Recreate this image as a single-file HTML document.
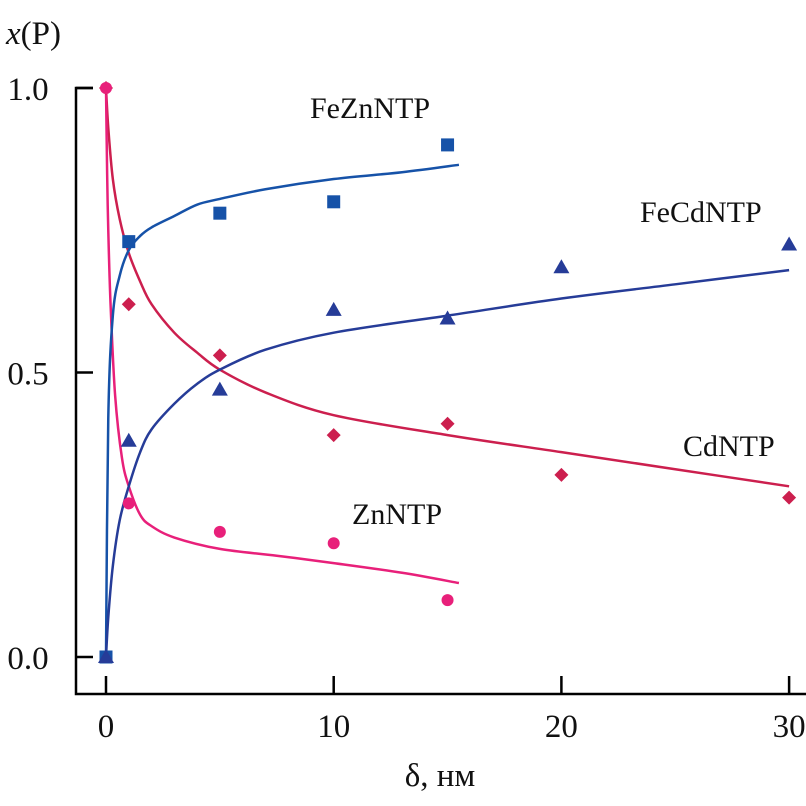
<!DOCTYPE html>
<html><head><meta charset="utf-8"><style>
body{margin:0;background:#fff}
svg{display:block;font-family:"Liberation Serif",serif}
</style></head><body>
<svg id="c" width="806" height="806"></svg>
<script>
const xTicks=[0,10,20,30];
const yTicks=[0.0,0.5,1.0];
const yTickLabels=["0.0","0.5","1.0"];
const feznX=[0,1,5,10,15], feznY=[0,0.73,0.78,0.80,0.90];
const fecdX=[0,1,5,10,15,20,30], fecdY=[0,0.38,0.47,0.61,0.595,0.685,0.725];
const cdX=[0,1,5,10,15,20,30], cdY=[1,0.62,0.53,0.39,0.41,0.32,0.28];
const znX=[0,1,5,10,15], znY=[1,0.27,0.22,0.20,0.10];
const feznFitX=[0,0.1,0.3,0.6,1,1.5,2,3,4,5,7,10,13,15.5], feznFitY=[0,0.42,0.6,0.67,0.715,0.74,0.755,0.775,0.795,0.805,0.822,0.84,0.852,0.865];
const fecdFitX=[0,0.1,0.3,0.6,1,1.5,2,3,4,5,7,10,15,20,25,30], fecdFitY=[0,0.07,0.16,0.24,0.3,0.36,0.4,0.445,0.48,0.505,0.54,0.57,0.6,0.63,0.655,0.68];
const cdFitX=[0,0.1,0.3,0.6,1,1.5,2,3,4,5,7,10,15,20,25,30], cdFitY=[1,0.93,0.84,0.77,0.71,0.66,0.62,0.57,0.535,0.505,0.465,0.425,0.39,0.36,0.33,0.3];
const znFitX=[0,0.05,0.1,0.2,0.4,0.7,1,1.5,2,3,5,7.5,10,13,15.5], znFitY=[1,0.85,0.75,0.62,0.46,0.35,0.3,0.25,0.23,0.21,0.19,0.178,0.165,0.148,0.13];
const sx=v=>106+v*22.77, sy=v=>657-v*569;
const svg=document.getElementById('c'), NS='http://www.w3.org/2000/svg';
function mk(t,a,p){const e=document.createElementNS(NS,t);for(const k in a)e.setAttribute(k,a[k]);(p||svg).appendChild(e);return e;}
function txt(s,x,y,size,anchor){const e=mk('text',{x:x,y:y,'font-size':size,'text-anchor':anchor||'start',fill:'#111'});e.textContent=s;return e;}
let e=mk('path',{d:'M93,88 H76 V694 H806',stroke:'#000','stroke-width':2.5,fill:'none'});

yTicks.forEach((v,i)=>{
 let t=mk('line',{x1:76,x2:93,y1:sy(v),y2:sy(v),stroke:'#000','stroke-width':2.5});
 
 let l=txt(yTickLabels[i],28,sy(v)+12,33,'middle');
 
});
xTicks.forEach(v=>{
 let t=mk('line',{x1:sx(v),x2:sx(v),y1:676,y2:694,stroke:'#000','stroke-width':2.5});
 
 let l=txt(String(v),sx(v),737,33,'middle');
 
});
let yt=mk('text',{x:6,y:44,'font-size':33,fill:'#111'});yt.innerHTML='<tspan font-style="italic">x</tspan>(P)';

let xt=txt('δ, нм',440,786,33,'middle');

function curve(X,Y,color,name){
 const P=X.map((x,i)=>[sx(x),sy(Y[i])]);let d='M'+P[0][0]+','+P[0][1];
 for(let i=0;i<P.length-1;i++){const p0=P[i-1]||P[i],p1=P[i],p2=P[i+1],p3=P[i+2]||p2;
  d+=` C${p1[0]+(p2[0]-p0[0])/6},${p1[1]+(p2[1]-p0[1])/6} ${p2[0]-(p3[0]-p1[0])/6},${p2[1]-(p3[1]-p1[1])/6} ${p2[0]},${p2[1]}`;}
 const c=mk('path',{d:d,stroke:color,'stroke-width':2.5,fill:'none'});
 
}
curve(cdFitX,cdFitY,'#cc1f4e','cdntp-fit-line');
curve(znFitX,znFitY,'#e8207a','znntp-fit-line');
curve(feznFitX,feznFitY,'#1652a8','fezntp-fit-line');
curve(fecdFitX,fecdFitY,'#263c98','fecdntp-fit-line');
feznX.forEach((x,i)=>{const m=mk('rect',{x:sx(x)-6.5,y:sy(feznY[i])-6.5,width:13,height:13,fill:'#1652a8'});
 });
fecdX.forEach((x,i)=>{const X=sx(x),Y=sy(fecdY[i]);const m=mk('polygon',{points:`${X},${Y-8} ${X-8},${Y+6} ${X+8},${Y+6}`,fill:'#263c98'});
 });
cdX.forEach((x,i)=>{const X=sx(x),Y=sy(cdY[i]);const m=mk('polygon',{points:`${X},${Y-7} ${X+7},${Y} ${X},${Y+7} ${X-7},${Y}`,fill:'#cc1f4e'});
 });
znX.forEach((x,i)=>{const m=mk('circle',{cx:sx(x),cy:sy(znY[i]),r:6,fill:'#e8207a'});
 });
[['FeZnNTP',310,118,'fezntp-label'],['FeCdNTP',640,222,'fecdntp-label'],['CdNTP',683,456,'cdntp-label'],['ZnNTP',352,524,'znntp-label']].forEach(a=>{
 const l=txt(a[0],a[1],a[2],30);});
</script>
</body></html>
